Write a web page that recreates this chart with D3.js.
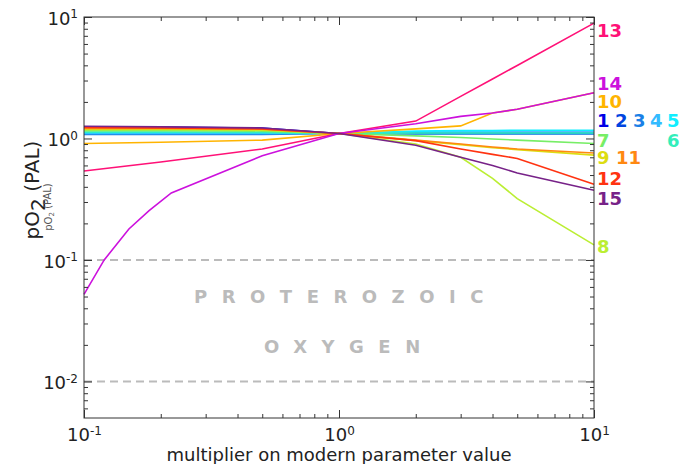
<!DOCTYPE html>
<html>
<head>
<meta charset="utf-8">
<script src="https://cdn.jsdelivr.net/npm/d3@7"></script>
<style>
  body { margin: 0; background: #fff; }
  text { font-family: "DejaVu Sans", sans-serif; }
</style>
</head>
<body>
<svg id="chart" width="694" height="464"></svg>
<script>
// multiplier grid shared by most runs
const multipliers = [0.1, 0.2, 0.5, 1, 2, 3, 4, 5, 10];
// finer grid for run 14 (curved on the left)
const multipliersFine = [0.1, 0.12, 0.15, 0.18, 0.22, 0.5, 1, 2, 3, 4, 5, 10];

const runLabels = ['1', '2', '3', '4', '5', '6', '7', '8', '9', '10', '11', '12', '13', '14', '15'];
const runColors = ['#0000e6', '#0044e0', '#1a80e6', '#33bbff', '#11eeff', '#33eebb', '#77ee66', '#bbee33',
                   '#dddd11', '#ffb400', '#ff8811', '#ff3311', '#ff1177', '#cc11dd', '#772288'];

const run1  = [1.24, 1.24, 1.22, 1.1, 1.12, 1.12, 1.12, 1.12, 1.12];
const run2  = [1.19, 1.19, 1.17, 1.1, 1.1, 1.1, 1.1, 1.1, 1.1];
const run3  = [1.08, 1.08, 1.08, 1.1, 1.09, 1.09, 1.09, 1.09, 1.09];
const run4  = [1.1, 1.1, 1.1, 1.1, 1.13, 1.13, 1.13, 1.13, 1.13];
const run5  = [1.12, 1.12, 1.12, 1.1, 1.15, 1.16, 1.16, 1.17, 1.17];
const run6  = [1.13, 1.13, 1.12, 1.1, 1.11, 1.11, 1.11, 1.11, 1.11];
const run7  = [1.16, 1.16, 1.15, 1.1, 1.05, 1.02, 0.99, 0.97, 0.91];
const run8  = [1.18, 1.18, 1.17, 1.1, 0.9, 0.7, 0.47, 0.32, 0.133];
const run9  = [1.2, 1.2, 1.18, 1.1, 0.96, 0.89, 0.84, 0.81, 0.73];
const run10 = [0.91, 0.93, 0.97, 1.1, 1.2, 1.27, 1.62, 1.74, 2.38];
const run11 = [1.21, 1.21, 1.19, 1.1, 0.97, 0.9, 0.85, 0.82, 0.76];
const run12 = [1.23, 1.22, 1.2, 1.1, 0.96, 0.82, 0.74, 0.685, 0.42];
const run13 = [0.54, 0.64, 0.82, 1.1, 1.39, 2.22, 3.09, 3.99, 8.9];
const run14 = [0.052, 0.1, 0.18, 0.255, 0.356, 0.72, 1.1, 1.32, 1.52, 1.62, 1.74, 2.38];
const run15 = [1.26, 1.25, 1.22, 1.1, 0.88, 0.7, 0.6, 0.52, 0.375];

const runValues = [run1, run2, run3, run4, run5, run6, run7, run8, run9, run10, run11, run12, run13, run14, run15];

const yTickValues = [0.01, 0.1, 1, 10];
const xTickValues = [0.1, 1, 10];
const referenceLevels = [0.1, 0.01];

// where the run numbers sit on the right (layout only)
const labelSpots = [
    { i: 0, x: 597, y: 121 }, { i: 1, x: 615, y: 121 }, { i: 2, x: 633, y: 121 },
    { i: 3, x: 650, y: 121 }, { i: 4, x: 667, y: 121 }, { i: 5, x: 667, y: 141 },
    { i: 6, x: 597, y: 141 }, { i: 7, x: 597, y: 247 }, { i: 8, x: 597, y: 158 },
    { i: 9, x: 597, y: 102 }, { i: 10, x: 616, y: 158 }, { i: 11, x: 597, y: 179 },
    { i: 12, x: 597, y: 31 }, { i: 13, x: 597, y: 84 }, { i: 14, x: 597, y: 199 }
];

const margin = { top: 17, right: 100, bottom: 46, left: 84 };
const width = 694, height = 464;

const svg = d3.select('#chart');

const x = d3.scaleLog().domain([0.1, 10]).range([margin.left, width - margin.right]);
const y = d3.scaleLog().domain([0.005, 10]).range([height - margin.bottom, margin.top]);

const minorTicks = (lo, hi) => {
    const out = [];
    for (let e = Math.floor(Math.log10(lo)); e < Math.log10(hi); e++) {
        for (let m = 2; m <= 9; m++) {
            const v = m * Math.pow(10, e);
            if (v > lo && v < hi) out.push(v);
        }
    }
    return out;
};

const supLabel = (sel) => {
    sel.each(function (d) {
        const t = d3.select(this).text('');
        t.append('tspan').text('10');
        t.append('tspan').attr('dy', '-0.55em').attr('font-size', '12px').text(Math.round(Math.log10(d)));
    });
};

// reference dashed lines
svg.append('g')
    .selectAll('line')
    .data(referenceLevels)
    .join('line')
    .attr('x1', x.range()[0]).attr('x2', x.range()[1])
    .attr('y1', d => y(d)).attr('y2', d => y(d))
    .attr('stroke', '#bbbbbb')
    .attr('stroke-width', 2)
    .attr('stroke-dasharray', '8,5');

// background caption
const caption = svg.append('g').attr('fill', '#bbbbbb').attr('font-weight', 'bold').attr('font-size', '18px');
caption.append('text').attr('x', 194).attr('y', 303).attr('letter-spacing', '14.5px').text('PROTEROZOIC');
caption.append('text').attr('x', 264).attr('y', 353).attr('letter-spacing', '14.5px').text('OXYGEN');

// lines
const line = d3.line().x(d => x(d[0])).y(d => y(d[1]));

svg.append('g')
    .attr('fill', 'none')
    .attr('stroke-width', 1.6)
    .selectAll('path')
    .data(runValues)
    .join('path')
    .attr('stroke', (d, i) => runColors[i])
    .attr('d', d => line(d.map((v, j) => [(d.length === multipliersFine.length ? multipliersFine : multipliers)[j], v])));

// axes
const axisColor = '#333';
const yMinor = minorTicks(0.005, 10);
const xMinor = minorTicks(0.1, 10);

const styleAxis = (g) => {
    g.select('.domain').remove();
    g.selectAll('.tick line').attr('stroke', axisColor);
};

svg.append('g').attr('transform', `translate(${margin.left},0)`)
    .call(d3.axisLeft(y).tickValues(yMinor).tickSize(-4).tickFormat(''))
    .call(styleAxis);
svg.append('g').attr('transform', `translate(${margin.left},0)`)
    .call(d3.axisLeft(y).tickValues(yTickValues).tickSize(-8).tickPadding(6))
    .call(styleAxis)
    .call(g => g.selectAll('.tick text').attr('font-size', '18px').attr('fill', '#222').attr('dy', '0.4em').call(supLabel));

svg.append('g').attr('transform', `translate(${width - margin.right},0)`)
    .call(d3.axisRight(y).tickValues(yMinor).tickSize(-4).tickFormat(''))
    .call(styleAxis);
svg.append('g').attr('transform', `translate(${width - margin.right},0)`)
    .call(d3.axisRight(y).tickValues(yTickValues).tickSize(-8).tickFormat(''))
    .call(styleAxis);

svg.append('g').attr('transform', `translate(0,${height - margin.bottom})`)
    .call(d3.axisBottom(x).tickValues(xMinor).tickSize(-4).tickFormat(''))
    .call(styleAxis);
svg.append('g').attr('transform', `translate(0,${height - margin.bottom})`)
    .call(d3.axisBottom(x).tickValues(xTickValues).tickSize(-8).tickPadding(7))
    .call(styleAxis)
    .call(g => g.selectAll('.tick text').attr('font-size', '18px').attr('fill', '#222').attr('dy', '0.9em').call(supLabel));

svg.append('g').attr('transform', `translate(0,${margin.top})`)
    .call(d3.axisTop(x).tickValues(xMinor).tickSize(-4).tickFormat(''))
    .call(styleAxis);
svg.append('g').attr('transform', `translate(0,${margin.top})`)
    .call(d3.axisTop(x).tickValues(xTickValues).tickSize(-8).tickFormat(''))
    .call(styleAxis);

// frame
svg.append('rect')
    .attr('x', margin.left).attr('y', margin.top)
    .attr('width', width - margin.right - margin.left)
    .attr('height', height - margin.bottom - margin.top)
    .attr('fill', 'none')
    .attr('stroke', axisColor)
    .attr('stroke-width', 1);

// run number labels
svg.append('g')
    .attr('font-size', '18px')
    .attr('font-weight', 'bold')
    .selectAll('text')
    .data(labelSpots)
    .join('text')
    .attr('x', d => d.x)
    .attr('y', d => d.y)
    .attr('dy', '0.36em')
    .attr('fill', d => runColors[d.i])
    .text(d => runLabels[d.i]);

// axis titles
svg.append('text')
    .attr('x', (margin.left + width - margin.right) / 2)
    .attr('y', 461)
    .attr('text-anchor', 'middle')
    .attr('font-size', '18px')
    .attr('fill', '#222')
    .text('multiplier on modern parameter value');

const yTitle = svg.append('text')
    .attr('transform', 'translate(39,190) rotate(-90)')
    .attr('text-anchor', 'middle')
    .attr('font-size', '20px')
    .attr('fill', '#222');
yTitle.append('tspan').text('pO');
yTitle.append('tspan').attr('dy', '0.3em').text('2');
yTitle.append('tspan').attr('dy', '-0.3em').text(' (PAL)');

const ySub = svg.append('text')
    .attr('transform', 'translate(52,207) rotate(-90)')
    .attr('text-anchor', 'middle')
    .attr('font-size', '10px')
    .attr('fill', '#555');
ySub.append('tspan').text('pO');
ySub.append('tspan').attr('dy', '0.3em').attr('font-size', '7px').text('2');
ySub.append('tspan').attr('dy', '-0.3em').text(' (PAL)');
</script>
</body>
</html>
